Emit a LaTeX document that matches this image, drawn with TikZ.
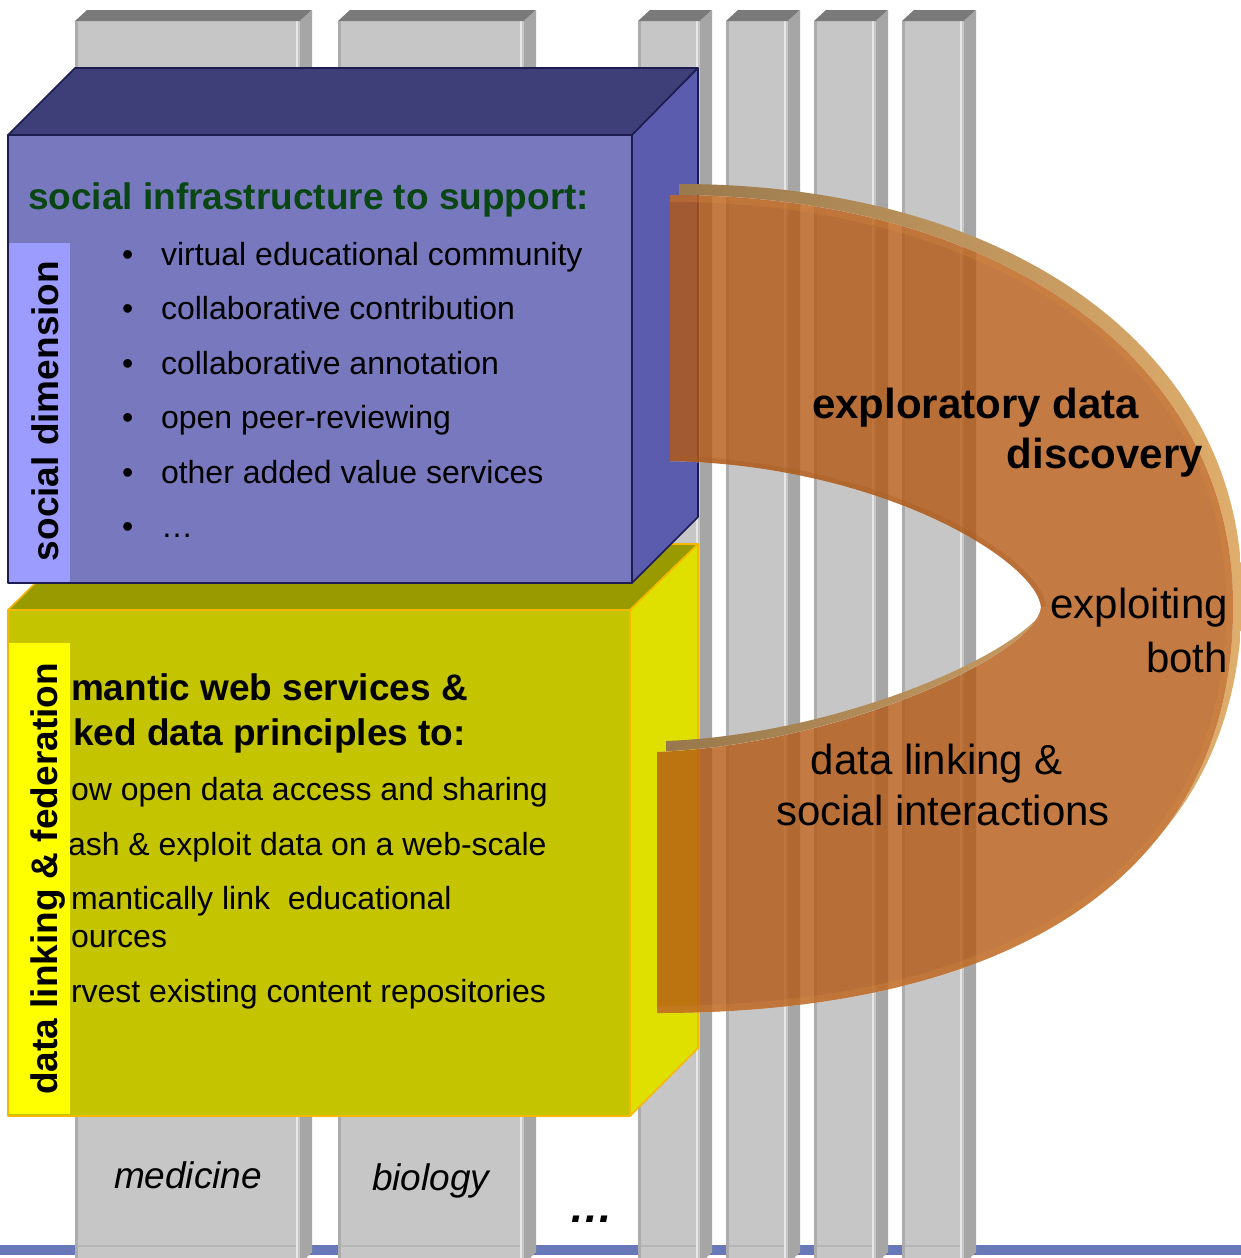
\documentclass[tikz,border=0pt]{standalone}
\usepackage{fontspec}
\setmainfont{Liberation Sans}
\definecolor{pfront}{RGB}{198,198,198}
\definecolor{ptop}{RGB}{122,122,122}
\definecolor{pside}{RGB}{166,166,166}
\definecolor{pedge}{RGB}{172,172,172}
\definecolor{phigh}{RGB}{230,230,230}
\definecolor{pbottom}{RGB}{182,182,182}
\definecolor{baseblue}{RGB}{104,120,184}
\definecolor{bfront}{RGB}{120,120,190}
\definecolor{btop}{RGB}{62,62,120}
\definecolor{bside}{RGB}{92,92,175}
\definecolor{bline}{RGB}{28,28,80}
\definecolor{bstrip}{RGB}{156,156,255}
\definecolor{titlegreen}{RGB}{10,70,20}
\definecolor{yfront}{RGB}{196,196,0}
\definecolor{ytop}{RGB}{153,153,0}
\definecolor{yside}{RGB}{224,224,0}
\definecolor{yline}{RGB}{245,184,0}
\definecolor{ystrip}{RGB}{255,255,0}
\definecolor{archfill}{RGB}{180,90,20}
\definecolor{rimdark}{RGB}{152,120,76}
\definecolor{rimlight}{RGB}{224,174,108}
\definecolor{innerband}{RGB}{170,90,30}
\definecolor{outerband}{RGB}{215,135,65}
\tikzset{
  txt/.style={inner sep=0pt, outer sep=0pt, font=\fontsize{32}{38}\selectfont},
  btxt/.style={inner sep=0pt, outer sep=0pt, font=\fontsize{37}{44}\selectfont\bfseries},
  itxt/.style={inner sep=0pt, outer sep=0pt, font=\fontsize{37}{44}\selectfont\itshape},
  archtxt/.style={inner sep=0pt, outer sep=0pt, font=\fontsize{42}{50}\selectfont},
  archbtxt/.style={inner sep=0pt, outer sep=0pt, font=\fontsize{42}{50}\selectfont\bfseries},
  bluebox/.style={draw=bline, line width=1.6pt, line join=round},
  yellowbox/.style={draw=yline, line width=1.6pt, line join=round},
}
\newcommand\pillarshape[2]{%
  \fill[pfront] (#1,21) rectangle (#2,1258);
  \fill[pedge] (#1,21) rectangle (#1+3,1258);
  \fill[phigh] (#2-4,21) rectangle (#2-2,1258);
  \fill[ptop] (#1,21) -- (#1+12,10) -- (#2+12,10) -- (#2,21) -- cycle;
  \fill[pside] (#2,21) -- (#2+12,10) -- (#2+12,1252) -- (#2+6,1258) -- (#2,1258) -- cycle;
  \draw[pbottom, line width=1.5pt] (#1+3,1246) -- (#2-4,1246);
}
\newcommand\backdrop{%
  \fill[white] (0,0) rectangle (1241,1258);
  \fill[baseblue] (0,1245) rectangle (1241,1255);
  \pillarshape{75}{300}
  \pillarshape{338}{524}
  \pillarshape{638}{700}
  \pillarshape{726}{788}
  \pillarshape{814}{876}
  \pillarshape{902}{964}
  % yellow box
  \filldraw[fill=ytop, yellowbox] (8,610) -- (75,544) -- (698,544) -- (630,610) -- cycle;
  \filldraw[fill=yside, yellowbox] (630,610) -- (698,544) -- (698,1048) -- (630,1116) -- cycle;
  \filldraw[fill=yfront, yellowbox] (8,610) rectangle (630,1116);
  % blue box
  \filldraw[fill=btop, bluebox] (8,135) -- (75,68) -- (698,68) -- (632,135) -- cycle;
  \filldraw[fill=bside, bluebox] (632,135) -- (698,68) -- (698,517) -- (632,583) -- cycle;
  \filldraw[fill=bfront, bluebox] (8,135) rectangle (632,583);
}
\def\archouter{(670,195) .. controls (1000,195) and (1233,360) .. (1233,604) .. controls (1235,870) and (1020,1013) .. (657,1013)}
\def\archpath{(670,195) .. controls (1000,195) and (1233,360) .. (1233,604) .. controls (1235,870) and (1020,1013) .. (657,1013) -- (657,752) .. controls (840,745) and (1036,655) .. (1041,607) .. controls (1036,560) and (880,465) .. (670,461) -- cycle}
\begin{document}
\begin{tikzpicture}[x=1pt,y=-1pt]
\useasboundingbox (0,0) rectangle (1241,1258);
\backdrop
% arch: back face (rim)
\shade[left color=rimdark, right color=rimlight, shift={(9,-11)}] \archpath;
% restore what lies behind the front face
\begin{scope}
  \clip \archpath;
  \backdrop
\end{scope}
% arch front face
\fill[archfill, fill opacity=0.8] \archpath;
\begin{scope}
  \clip \archpath;
  \draw[innerband, line width=10pt, opacity=0.35] (1041,607) .. controls (1036,560) and (880,465) .. (670,461);
  \draw[outerband, line width=14pt, opacity=0.3] \archouter;
\end{scope}

% text in yellow box (partly hidden by the strip)
\node[btxt, anchor=base west] (y1) at (71,700) {mantic web services \&};
\node[btxt, anchor=base west] (y2) at (73,745) {ked data principles to:};
\node[txt, anchor=base west] (y3) at (71,800) {ow open data access and sharing};
\node[txt, anchor=base west] (y4) at (68,855) {ash \& exploit data on a web-scale};
\node[txt, anchor=base west] (y5) at (71,909) {mantically link\ \ educational};
\node[txt, anchor=base west] (y6) at (71,947) {ources};
\node[txt, anchor=base west] (y7) at (71,1002) {rvest existing content repositories};
% strips
\fill[ystrip] (9,643) rectangle (70,1114);
\fill[bstrip] (9,243) rectangle (70,582);
\node[btxt, rotate=90, anchor=base] (socdim) at (58,411) {social dimension};
\node[btxt, rotate=90, anchor=base] (datalink) at (57,879) {data linking \& federation};

% text in blue box
\node[btxt, text=titlegreen, anchor=base west] (title) at (28,209) {social infrastructure to support:};
\foreach \t/\yy [count=\i] in {virtual educational community/265, collaborative contribution/319, collaborative annotation/374, open peer-reviewing/428, other added value services/483, \ldots/537}{
  \node[txt, anchor=base west] (dot\i) at (122,\yy) {•};
  \node[txt, anchor=base west] (item\i) at (161,\yy) {\t};
}

% arch text
\node[archbtxt, anchor=base west] (expl) at (812,418) {exploratory data};
\node[archbtxt, anchor=base east] (disc) at (1203,468) {discovery};
\node[archtxt, anchor=base east] (exploit) at (1228,618) {exploiting};
\node[archtxt, anchor=base east] (both) at (1228,672) {both};
\node[archtxt, anchor=base] (dl) at (937,774) {data linking \&};
\node[archtxt, anchor=base] (si) at (943,825) {social interactions};

% pillar labels
\node[itxt, anchor=base west] (med) at (114,1188) {medicine};
\node[itxt, anchor=base west] (bio) at (372,1190) {biology};
\node[inner sep=0pt, font=\fontsize{44}{50}\selectfont\bfseries\itshape, anchor=base west] (more) at (569,1222) {…};
\end{tikzpicture}
\end{document}
